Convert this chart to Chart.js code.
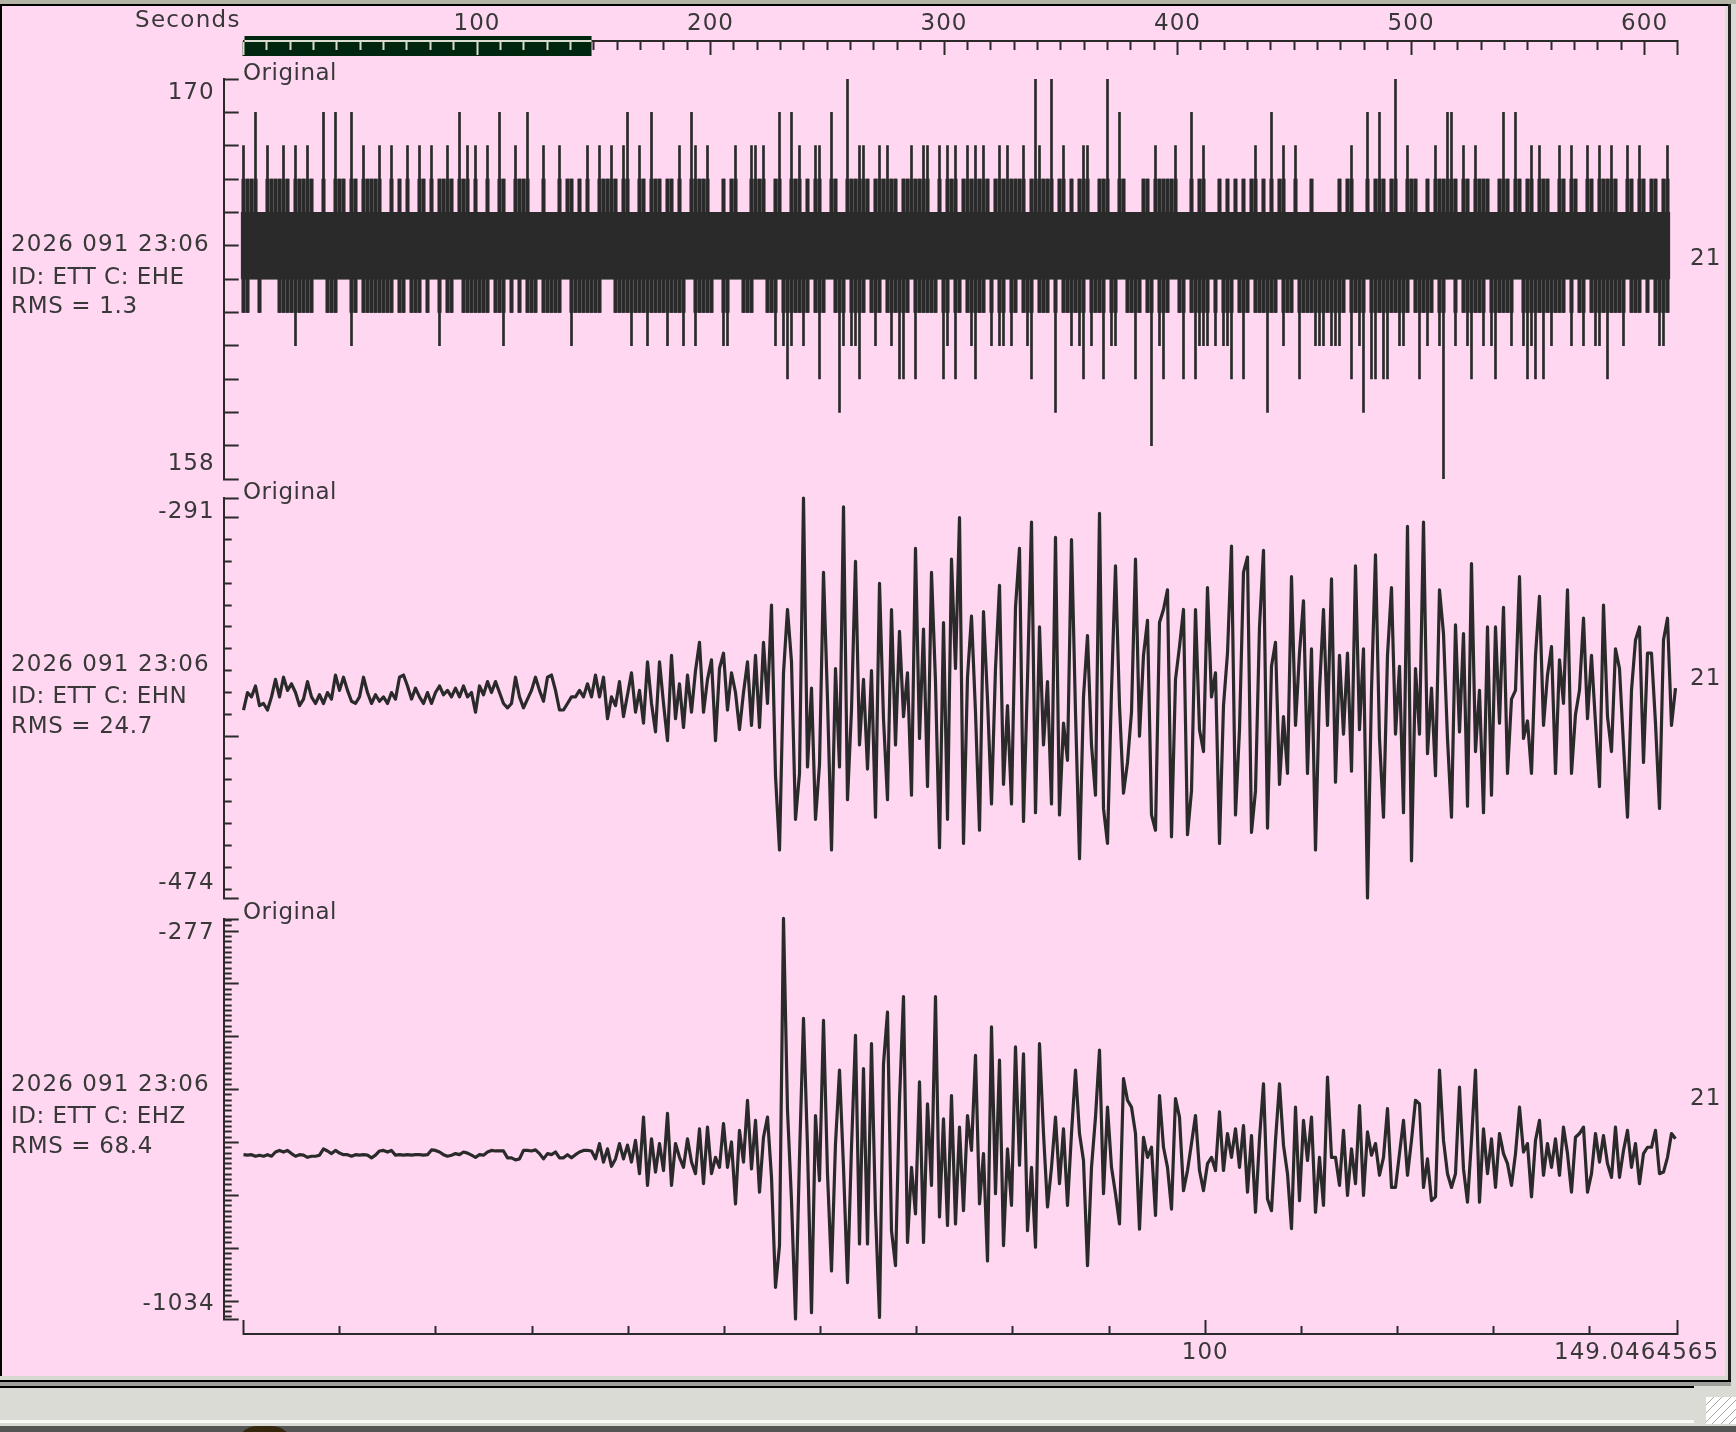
<!DOCTYPE html>
<html>
<head>
<meta charset="utf-8">
<title>ETT helicorder</title>
<script src="https://cdn.jsdelivr.net/npm/chart.js@4/dist/chart.umd.min.js"></script>
<style>
	html,body{margin:0;padding:0;background:#dbdbd5;overflow:hidden;}
	#page{position:relative;width:1736px;height:1432px;overflow:hidden;}
	#page div.box{position:absolute;}
	#page canvas{position:absolute;left:0;}
	.txt{position:absolute;transform:translateY(-50%);font-family:"DejaVu Sans";font-size:23px;letter-spacing:1.05px;color:#383838;white-space:pre;line-height:1;}
</style>
</head>
<body>
<div id="page">
	<div class="box" style="left:0;top:0;width:1736px;height:4px;background:#b4b4a6"></div>
	<div class="box" style="left:0;top:4px;width:1730px;height:2px;background:#000"></div>
	<div class="box" style="left:0;top:4px;width:2px;height:1376px;background:#000"></div>
	<div class="box" style="left:2px;top:6px;width:1723px;height:1370px;background:#ffd7f1"></div>
	<div class="box" style="left:1725px;top:6px;width:3px;height:1374px;background:#dcdcd4"></div>
	<div class="box" style="left:1728px;top:4px;width:3px;height:1378px;background:#222"></div>
	<div class="box" style="left:0;top:1376px;width:1728px;height:4px;background:#d8d8d0"></div>
	<div class="box" style="left:0;top:1380px;width:1731px;height:2px;background:#000"></div>
	<div class="box" style="left:0;top:1382px;width:1731px;height:4px;background:#a0a09a"></div>
	<div class="box" style="left:0;top:1386px;width:1694px;height:2px;background:#000"></div>
	<div class="box" style="left:0;top:1420px;width:1694px;height:3px;background:#fafaf6"></div>
	<div class="box" style="left:1706px;top:1397px;width:30px;height:27px;background:repeating-linear-gradient(135deg,#fff 0 5px,#a8a8a0 5px 6px)"></div>
	<div class="box" style="left:0;top:1426px;width:1736px;height:6px;background:#555;overflow:hidden">
		<div class="box" style="left:237px;top:0;width:55px;height:20px;background:#35260e;border-radius:20px 20px 0 0"></div>
		<div class="txt" style="left:310px;top:8px;font-size:36px;color:#000;transform:none;letter-spacing:2px">USGS ENS</div>
	</div>
	<canvas id="top-axis" width="1736" height="70" style="top:0"></canvas>
	<canvas id="ehe-chart" width="1736" height="420" style="top:70px"></canvas>
	<canvas id="ehn-chart" width="1736" height="420" style="top:489px"></canvas>
	<canvas id="ehz-chart" width="1736" height="420" style="top:910px"></canvas>
	<canvas id="bottom-axis" width="1736" height="70" style="top:1300px"></canvas>
	<div id="labels"></div>
</div>
<script>
// seconds between two samples of a trace
const sampleStep = 1.713;
const maxSeconds = 613.9;
const selection = [0,149.0464565];

const topMajor = [0,100,200,300,400,500,600,613.9];
const topLabels = [100,200,300,400,500,600];
const bottomMajor = [0,100,149.0464565];
const bottomLabels = [100];

const eheRange = [158,170];
const ehnRange = [-474,-291];
const ehzRange = [-1034,-277];
const eheTicks = [170,169,168,167,166,165,164,163,162,161,160,159,158];
const ehnTicks = [-291,-300,-400,-474];
const ehzTicks = [-277,-300,-400,-500,-600,-700,-800,-900,-1000,-1034];

const eheHigh = [168,167,167,169,166,166,168,167,167,167,168,167,166,168,167,167,168,167,166,166,169,166,166,169,167,167,166,169,167,166,168,167,167,167,168,166,166,168,166,167,166,168,166,166,168,167,166,168,166,167,167,168,167,166,169,167,168,166,168,166,166,168,166,166,169,167,166,166,168,167,167,169,166,166,166,168,166,166,166,168,166,167,167,166,167,166,168,166,166,168,167,167,168,167,166,168,169,166,166,168,167,166,169,167,167,166,167,167,166,168,166,166,169,168,167,
	167,168,166,166,166,167,166,167,168,166,166,166,168,168,167,168,166,166,167,169,166,166,169,167,168,166,167,166,168,168,166,166,169,167,166,166,170,167,167,168,168,167,166,
	167,168,167,168,167,167,166,167,167,168,167,167,168,168,166,166,168,166,168,167,168,166,167,168,167,168,167,168,167,166,167,168,167,168,167,167,167,168,166,167,170,168,167,167,170,166,167,168,166,167,166,167,168,168,166,166,167,167,170,166,166,169,167,166,166,166,166,167,167,166,168,167,167,167,167,168,166,166,166,169,166,167,
	168,166,166,166,167,166,167,166,167,166,167,166,167,168,166,167,166,169,166,167,168,166,166,168,166,166,166,167,166,166,166,166,166,166,167,166,167,168,166,166,166,169,166,167,169,167,166,167,170,166,166,168,167,167,166,166,167,166,168,167,167,169,169,167,166,168,167,166,168,167,167,167,166,166,167,169,167,166,169,167,166,167,168,166,168,167,167,166,166,168,167,166,168,167,166,166,168,167,166,168,167,167,168,167,166,166,168,167,166,168,167,166,167,167,166,167,168];
const eheLow = [163,163,164,164,163,164,164,164,164,163,163,163,163,162,163,163,163,163,164,164,164,163,163,163,164,164,164,162,163,164,163,163,163,163,163,163,163,163,164,163,163,164,163,163,163,164,163,164,164,162,164,163,163,164,164,163,163,163,163,163,163,163,164,163,163,162,164,163,164,163,164,163,163,163,164,163,163,163,163,163,164,164,162,163,163,163,163,163,163,163,164,164,164,163,163,163,163,162,163,163,163,162,163,163,163,163,162,163,163,163,162,164,164,162,163,
	163,163,163,164,164,162,162,164,164,164,163,163,163,164,164,164,163,163,162,164,162,161,162,163,163,162,163,164,163,161,163,164,164,163,160,162,164,162,162,161,163,164,163,
	162,163,164,163,162,163,161,161,163,164,161,163,163,163,163,163,164,161,162,164,161,163,164,163,162,161,163,163,164,162,164,162,162,164,162,163,164,163,162,161,164,163,163,163,164,160,164,163,163,162,163,162,161,164,162,163,163,161,164,162,162,164,164,163,163,161,163,164,163,159,164,162,161,163,164,164,163,161,164,163,161,162,
	162,162,164,162,164,162,162,161,164,163,161,163,164,163,163,163,160,163,163,164,162,163,163,164,161,163,163,163,162,162,162,163,162,162,162,163,164,161,163,162,160,164,161,161,163,161,161,163,163,162,162,163,164,163,161,163,162,163,164,162,158,164,164,162,164,163,162,161,163,163,162,164,162,161,163,163,163,162,164,164,162,161,162,161,163,161,163,162,163,163,163,164,162,164,163,162,164,163,162,162,163,161,163,163,163,162,164,163,163,163,164,163,164,163,162,162,163];

const ehnValues = [-388,-380,-382,-377,-386,-385,-388,-382,-374,-382,-373,-379,-376,-380,-386,-383,-375,-382,-385,-381,-385,-380,-383,-372,-379,-373,-379,-384,-385,-382,-373,-380,-385,-381,-384,-382,-385,-380,-383,-373,-372,-377,-383,-378,-382,-385,-380,-385,-380,-377,-381,-379,-382,-378,-382,-377,-382,-380,-389,-377,-381,-375,-380,-375,-380,-385,-387,-385,-373,-382,-387,-383,-379,-373,-379,-384,-373,-372,-379,-388,-388,-385,-382,-382,-379,-382,-376,-382,-372,-382,-373,-392,-382,-386,-375,-391,-381,-371,-389,-379,-394,-366,-385,-398,-366,-385,-402,-363,-392,-376,-396,-372,-389,-370,-357,
	-389,-374,-365,-402,-369,-362,-388,-371,-380,-397,-380,-366,-395,-363,-396,-357,-385,-340,-418,-452,-371,-342,-366,-438,-417,-291,-414,-378,-438,-413,-325,-383,-452,-369,-414,-295,-429,-388,-320,-404,-374,-415,-370,-437,-330,-392,-429,-342,-404,-352,-391,-371,-427,-314,-401,-351,-423,-325,-375,-451,-348,-438,-319,-369,-300,-449,-373,-345,-389,-443,-343,-383,-431,-369,-331,-422,-386,-431,-341,-314,-439,-374,-302,-435,-350,-404,-375,-431,-309,-436,-394,-411,-310,-389,-456,-382,-354,-404,-427,-298,-433,-449,-379,-322,-386,-426,-412,-389,-319,-400,-363,-347,-436,-443,-348,-342,-333,-446,-374,-359,-342,-445,-425,-342,-397,
	-407,-332,-382,-371,-449,-386,-362,-313,-436,-397,-325,-318,-444,-425,-350,-315,-442,-368,-357,-422,-391,-417,-327,-395,-362,-338,-417,-360,-452,-379,-342,-395,-328,-421,-363,-399,-362,-416,-322,-397,-360,-474,-379,-317,-401,-437,-363,-332,-399,-368,-435,-304,-457,-369,-399,-302,-408,-378,-418,-333,-353,-401,-437,-349,-398,-353,-432,-321,-407,-379,-435,-350,-427,-350,-394,-341,-417,-383,-379,-327,-401,-393,-417,-363,-336,-395,-372,-359,-417,-365,-385,-333,-417,-390,-379,-346,-392,-363,-394,-423,-340,-391,-407,-360,-369,-404,-437,-379,-356,-350,-412,-362,-362,-394,-433,-356,-346,-395,-378];

const ehzValues = [-723,-724,-723,-726,-724,-726,-723,-726,-718,-715,-718,-715,-721,-726,-723,-724,-728,-726,-726,-724,-712,-716,-721,-715,-720,-723,-723,-726,-723,-724,-723,-724,-729,-724,-716,-715,-718,-715,-724,-723,-724,-723,-724,-723,-723,-724,-723,-714,-715,-718,-723,-726,-724,-721,-723,-718,-720,-724,-728,-723,-724,-718,-715,-716,-716,-716,-729,-729,-733,-731,-715,-715,-716,-714,-721,-731,-721,-723,-718,-729,-729,-723,-729,-723,-718,-715,-715,-716,-731,-702,-737,-712,-745,-731,-702,-731,-705,-737,-696,-759,-652,-781,-693,-756,-702,-753,-645,-781,-702,-728,-747,-693,-737,-759,-674,-778,-671,-759,-728,-747,-664,-747,-699,-816,
	-677,-737,-620,-750,-658,-794,-690,-652,-766,-974,-895,-276,-639,-810,-1034,-728,-465,-709,-1022,-649,-772,-469,-759,-943,-702,-563,-747,-965,-709,-497,-892,-560,-892,-513,-832,-1031,-551,-453,-867,-933,-620,-424,-889,-747,-835,-585,-889,-627,-781,-424,-841,-655,-857,-611,-854,-671,-829,-649,-715,-535,-816,-721,-924,-481,-797,-544,-895,-712,-819,-519,-743,-532,-867,-747,-898,-513,-683,-822,-747,-652,-778,-674,-819,-683,-563,-683,-734,-933,-747,-652,-525,-797,-633,-747,-797,-854,-579,-620,-633,-683,-864,-690,-728,-709,-838,-611,-709,-747,-826,-617,-652,-791,-753,-702,-649,-753,
	-791,-740,-728,-753,-642,-753,-683,-728,-674,-747,-668,-794,-687,-832,-693,-589,-807,-829,-696,-589,-705,-759,-863,-633,-810,-658,-734,-652,-832,-728,-819,-576,-728,-728,-781,-677,-800,-712,-778,-630,-800,-680,-724,-702,-762,-728,-636,-785,-785,-721,-658,-762,-696,-620,-627,-785,-731,-810,-803,-563,-696,-759,-785,-759,-595,-750,-813,-696,-563,-813,-674,-759,-693,-785,-683,-721,-740,-781,-721,-633,-718,-702,-803,-696,-658,-762,-702,-747,-693,-762,-671,-721,-794,-690,-683,-671,-794,-759,-683,-737,-687,-740,-766,-671,-766,-715,-677,-747,-702,-778,-721,-709,-709,-677,-759,-756,-728,-683,-693];

// text, x, y, letter spacing
const sideLabels = [
	['Seconds',135,19,1.3],
	['Original',243,72,0.5],['2026 091 23:06',11,243,1.1],['ID: ETT C: EHE',11,276,0.5],['RMS = 1.3',11,305,0.65],['21',1690,257,1],
	['Original',243,491,0.5],['2026 091 23:06',11,663,1.1],['ID: ETT C: EHN',11,695,0.5],['RMS = 24.7',11,725,0.65],['21',1690,677,1],
	['Original',243,911,0.5],['2026 091 23:06',11,1083,1.1],['ID: ETT C: EHZ',11,1115,0.5],['RMS = 68.4',11,1145,0.65],['21',1690,1097,1],
	['149.0464565',1554,1351,1.05]
];

const inkColor = '#2a2a2a';
const textColor = '#383838';
const bandColor = '#01260f';
const bandLine = '#dcdcd0';
const tickFont = {family:'DejaVu Sans',size:23,lineHeight:'29px'};

sideLabels.forEach(([text,x,y,gap]) => {
	const el = document.createElement('div');
	el.className = 'txt';
	el.textContent = text;
	el.style.left = x+'px';
	el.style.top = y+'px';
	el.style.letterSpacing = gap+'px';
	document.getElementById('labels').appendChild(el);
});

const spacedText = {id:'spacedText',beforeDraw(chart){chart.ctx.letterSpacing = '1.05px';}};

// ticks between every 10 units, the long ones stay out
const tensBetween = (low,high,skip) => {
	const out = [];
	for (let v = Math.ceil(low/10)*10; v <= high; v += 10) {
		if (!skip.includes(v) && v%100 !== 0) out.push(v);
	}
	return out;
};

const sideScale = (range,values,width,len) => ({
	type:'linear',position:'left',min:range[0],max:range[1],
	afterBuildTicks:(axis) => {axis.ticks = values.map(v => ({value:v}));},
	afterFit:(axis) => {axis.width = width;axis.paddingTop = 0;axis.paddingBottom = 0;},
	border:{display:width>0,color:inkColor,width:2},
	grid:{drawOnChartArea:false,tickLength:-len,tickWidth:2,tickColor:inkColor},
	ticks:{
		autoSkip:false,maxRotation:0,padding:9+len,color:textColor,font:tickFont,
		callback:(v) => {
			if (!width) return '';
			if (v === range[1]) return ['',String(v)];
			if (v === range[0]) return [String(v),''];
			return '';
		}
	}
});

const panelOptions = (scales) => ({
	responsive:false,animation:false,devicePixelRatio:1,
	layout:{padding:{left:0,right:59,top:9,bottom:11}},
	events:[],
	plugins:{legend:{display:false},tooltip:{enabled:false}},
	scales:{x:{type:'linear',display:false,offset:false,min:-8.48,max:maxSeconds},...scales}
});

const tracePoints = (values) => values.map((v,i) => ({x:i*sampleStep,y:v}));

const traceChart = (id,values,range,major) => new Chart(document.getElementById(id),{
	type:'line',
	data:{datasets:[{data:tracePoints(values),borderColor:inkColor,borderWidth:3.2,pointRadius:0,tension:0,borderJoinStyle:'round',clip:false}]},
	options:panelOptions({
		y:sideScale(range,major,223.7,15),
		yMinor:{...sideScale(range,tensBetween(range[0],range[1],major),0,8),weight:-1}
	}),
	plugins:[spacedText]
});

// upper panel is digital counts, so it is drawn as floating columns
const eheColumns = eheHigh.map((hi,i) => ({x:i*sampleStep,hi,lo:eheLow[i]}));

new Chart(document.getElementById('ehe-chart'),{
	type:'bar',
	data:{datasets:[
		{data:eheColumns.map(c => ({x:c.x,y:[164,166]})),backgroundColor:inkColor,barThickness:4.6,grouped:false},
		{data:eheColumns.map(c => ({x:c.x,y:[Math.max(c.lo,163),Math.min(c.hi,167)]})),backgroundColor:inkColor,barThickness:3.4,grouped:false},
		{data:eheColumns.map(c => ({x:c.x,y:[c.lo,c.hi]})),backgroundColor:inkColor,barThickness:2,grouped:false}
	]},
	options:panelOptions({y:sideScale(eheRange,eheTicks,223.7,15)}),
	plugins:[spacedText]
});

traceChart('ehn-chart',ehnValues,ehnRange,ehnTicks);
traceChart('ehz-chart',ehzValues,ehzRange,ehzTicks);

const timeScale = (position,range,values,labels,len,size,padding) => ({
	type:'linear',position,min:range[0],max:range[1],
	afterBuildTicks:(axis) => {axis.ticks = values.map(v => ({value:v}));},
	afterFit:(axis) => {axis.height = size;axis.paddingLeft = 0;axis.paddingRight = 0;},
	border:{display:size>0,color:inkColor,width:2},
	grid:{
		drawOnChartArea:false,tickLength:-len,tickWidth:2,
		tickColor:(c) => (position === 'top' && c.tick && c.tick.value <= selection[1]) ? bandLine : inkColor
	},
	ticks:{
		autoSkip:false,maxRotation:0,padding,color:textColor,font:{family:'DejaVu Sans',size:23},
		callback:(v) => labels.includes(v) ? String(v) : ''
	}
});

const selectedBand = {
	id:'selectedBand',
	beforeDraw(chart){
		const sc = chart.scales.x, c = chart.ctx;
		const a = sc.getPixelForValue(selection[0]), b = sc.getPixelForValue(selection[1]);
		c.save();
		c.fillStyle = bandColor;
		c.fillRect(a+1,36,b-a-1,6);
		c.fillRect(a-1,41,b-a+1,15);
		c.restore();
	},
	afterDraw(chart){
		const sc = chart.scales.x, c = chart.ctx;
		const a = sc.getPixelForValue(selection[0]), b = sc.getPixelForValue(selection[1]);
		c.save();
		c.fillStyle = bandLine;
		c.fillRect(a+1,40,b-a-1,2);
		c.restore();
	}
};

const axisOptions = (padding,scales) => ({
	responsive:false,animation:false,devicePixelRatio:1,events:[],
	layout:{padding},
	plugins:{legend:{display:false},tooltip:{enabled:false}},
	scales
});

new Chart(document.getElementById('top-axis'),{
	type:'scatter',
	data:{datasets:[]},
	options:axisOptions({left:243.5,right:59,top:0,bottom:10},{
		x:timeScale('top',[0,maxSeconds],topMajor,topLabels,14,41,17),
		xMinor:{...timeScale('top',[0,maxSeconds],Array.from({length:61},(_,i) => i*10).filter(v => v%100 !== 0),[],9,0,0),weight:-1}
	}),
	plugins:[spacedText,selectedBand]
});

new Chart(document.getElementById('bottom-axis'),{
	type:'scatter',
	data:{datasets:[]},
	options:axisOptions({left:243.5,right:59,top:34,bottom:0},{
		x:timeScale('bottom',selection,bottomMajor,bottomLabels,14,36,19),
		xMinor:{...timeScale('bottom',selection,Array.from({length:14},(_,i) => (i+1)*10).filter(v => v%100 !== 0),[],8,0,0),weight:-1}
	}),
	plugins:[spacedText]
});
</script>
</body>
</html>
